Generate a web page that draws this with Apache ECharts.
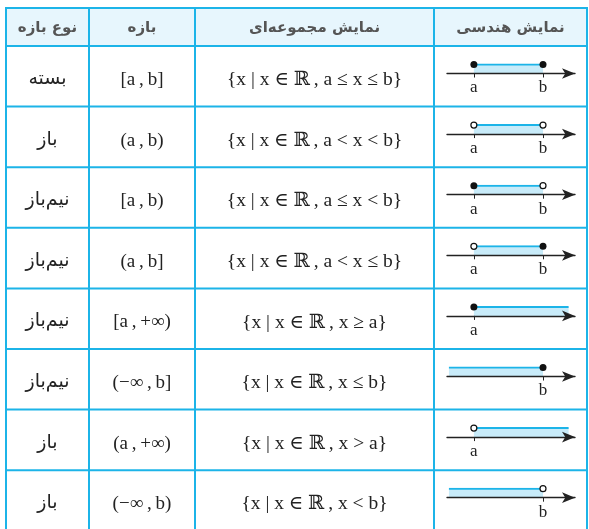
<!DOCTYPE html>
<html>
<head>
<meta charset="utf-8">
<script src="https://cdn.jsdelivr.net/npm/echarts@6/dist/echarts.min.js"></script>
<style>
  html, body { margin: 0; padding: 0; background: #fff; }
  #chart { width: 589px; height: 529px; }
</style>
</head>
<body>
<div id="chart"></div>
<script>
// 表头与各行文字
const headers = ['نوع بازه', 'بازه', 'نمایش مجموعه‌ای', 'نمایش هندسی']
const kinds = ['بسته', 'باز', 'نیم‌باز', 'نیم‌باز', 'نیم‌باز', 'نیم‌باز', 'باز', 'باز']
const intervals = ['[a\u2009,\u2009b]', '(a\u2009,\u2009b)', '[a\u2009,\u2009b)', '(a\u2009,\u2009b]',
  '[a\u2009,\u2009+\u221e)', '(\u2212\u221e\u2009,\u2009b]', '(a\u2009,\u2009+\u221e)', '(\u2212\u221e\u2009,\u2009b)']
const sets = [
  '{x | x \u2208 \u211d\u2009, a \u2264 x \u2264 b}',
  '{x | x \u2208 \u211d\u2009, a < x < b}',
  '{x | x \u2208 \u211d\u2009, a \u2264 x < b}',
  '{x | x \u2208 \u211d\u2009, a < x \u2264 b}',
  '{x | x \u2208 \u211d\u2009, x \u2265 a}',
  '{x | x \u2208 \u211d\u2009, x \u2264 b}',
  '{x | x \u2208 \u211d\u2009, x > a}',
  '{x | x \u2208 \u211d\u2009, x < b}'
]

// 数轴数据 (轴范围 0 ~ 10)
const A = 2.1
const B = 7.5
const segFrom = [A, A, A, A, A, 0.15, A, 0.15]
const segTo = [B, B, B, B, 9.5, B, 9.5, B]
const leftEnd = ['closed', 'open', 'closed', 'open', 'closed', null, 'open', null]
const rightEnd = ['closed', 'open', 'open', 'closed', null, 'closed', null, 'open']
const tickVals = [[A, B], [A, B], [A, B], [A, B], [A], [B], [A], [B]]

// 表格布局
const colX = [6, 89, 195, 434, 587]
const headTop = 8
const headBottom = 46
const rowH = 60.6
const rowTop = i => headBottom + i * rowH
const lineColor = '#1cb4e8'

let graphic = []
graphic.push({
  type: 'rect',
  shape: { x: colX[0], y: headTop, width: colX[4] - colX[0], height: headBottom - headTop },
  style: { fill: '#e7f6fd' },
  z: 0
})
// 横线
let hs = [headTop, headBottom]
for (let i = 1; i <= 8; i++) hs.push(rowTop(i))
hs.forEach(y => {
  graphic.push({
    type: 'line',
    shape: { x1: colX[0] - 1, y1: y, x2: colX[4] + 1, y2: y },
    style: { stroke: lineColor, lineWidth: 2 },
    z: 5
  })
})
// 竖线
colX.forEach(x => {
  graphic.push({
    type: 'line',
    shape: { x1: x, y1: headTop, x2: x, y2: rowTop(8) },
    style: { stroke: lineColor, lineWidth: 2 },
    z: 5
  })
})
const center = c => (colX[c] + colX[c + 1]) / 2
headers.forEach((h, c) => {
  graphic.push({
    type: 'text',
    x: center(c),
    y: (headTop + headBottom) / 2 + 1,
    style: {
      text: h,
      align: 'center',
      verticalAlign: 'middle',
      font: 'bold 15px "DejaVu Sans"',
      fill: '#555'
    },
    z: 6
  })
})
for (let i = 0; i < 8; i++) {
  const cy = rowTop(i) + 34
  graphic.push({
    type: 'text', x: center(0), y: cy - 1,
    style: { text: kinds[i], align: 'center', verticalAlign: 'middle', font: '19px "DejaVu Sans"', fill: '#222' },
    z: 6
  })
  graphic.push({
    type: 'text', x: center(1), y: cy,
    style: { text: intervals[i], align: 'center', verticalAlign: 'middle', font: '19px "Liberation Serif", "DejaVu Serif"', fill: '#222' },
    z: 6
  })
  graphic.push({
    type: 'text', x: center(2), y: cy,
    style: { text: sets[i], align: 'center', verticalAlign: 'middle', font: '19.5px "Liberation Serif", "DejaVu Serif"', fill: '#222' },
    z: 6
  })
}

// 每行一个坐标系
let grids = []
let xAxes = []
let yAxes = []
let series = []
for (let i = 0; i < 8; i++) {
  const axisY = rowTop(i) + 27.5
  grids.push({ left: 447, width: 128, top: axisY - 9, height: 9, outerBoundsMode: 'none' })
  xAxes.push({
    gridIndex: i,
    type: 'value',
    min: 0,
    max: 10,
    z: 3,
    splitLine: { show: false },
    axisLine: {
      onZero: false,
      symbol: ['none', 'arrow'],
      symbolSize: [8, 13],
      lineStyle: { color: '#222', width: 1.4 }
    },
    axisTick: {
      customValues: tickVals[i],
      length: 4,
      lineStyle: { color: '#222', width: 1 }
    },
    axisLabel: {
      customValues: tickVals[i],
      margin: 6,
      formatter: v => (v === A ? 'a' : 'b'),
      fontFamily: '"Liberation Serif", "DejaVu Serif"',
      fontSize: 17,
      color: '#222'
    }
  })
  yAxes.push({ gridIndex: i, type: 'value', min: 0, max: 1, show: false })
  series.push({
    type: 'line',
    xAxisIndex: i,
    yAxisIndex: i,
    data: [[segFrom[i], 1], [segTo[i], 1]],
    symbol: 'none',
    silent: true,
    lineStyle: { color: lineColor, width: 2 },
    areaStyle: { color: '#c8ebf9', opacity: 1, origin: 'start' },
    z: 2
  })
  let closed = []
  let open = []
  if (leftEnd[i] === 'closed') closed.push([segFrom[i], 1])
  if (leftEnd[i] === 'open') open.push([segFrom[i], 1])
  if (rightEnd[i] === 'closed') closed.push([segTo[i], 1])
  if (rightEnd[i] === 'open') open.push([segTo[i], 1])
  series.push({
    type: 'scatter',
    xAxisIndex: i,
    yAxisIndex: i,
    data: closed,
    symbolSize: 7,
    itemStyle: { color: '#111', opacity: 1 },
    z: 4
  })
  series.push({
    type: 'scatter',
    xAxisIndex: i,
    yAxisIndex: i,
    data: open,
    symbolSize: 6,
    itemStyle: { color: '#fff', borderColor: '#111', borderWidth: 1.2, opacity: 1 },
    z: 4
  })
}

let myChart = echarts.init(document.getElementById('chart'))
myChart.setOption({
  animation: false,
  grid: grids,
  xAxis: xAxes,
  yAxis: yAxes,
  series: series,
  graphic: graphic
})
</script>
</body>
</html>
